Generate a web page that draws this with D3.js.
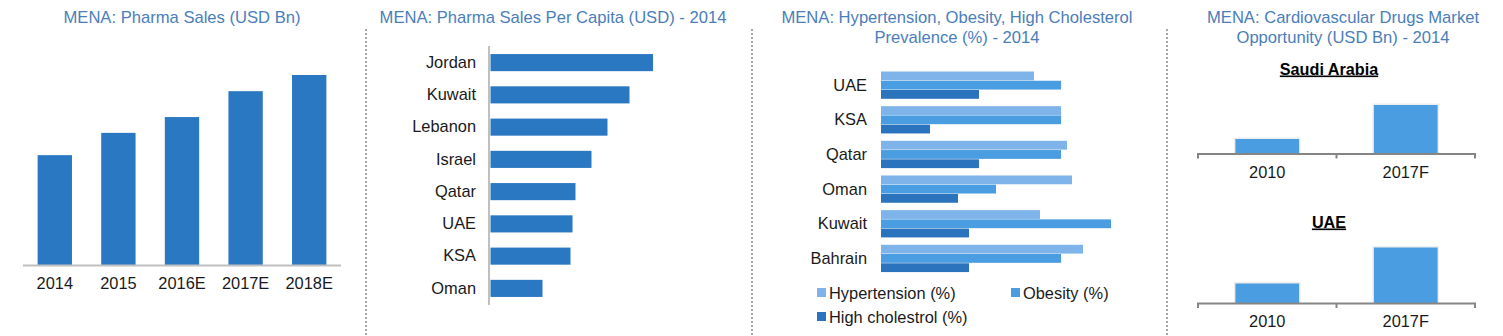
<!DOCTYPE html>
<html><head><meta charset="utf-8">
<script src="https://cdn.jsdelivr.net/npm/d3@7"></script>
<style>body{margin:0;background:#fff;} svg{display:block;font-family:"Liberation Sans",Arial,sans-serif;}</style>
</head><body>
<svg id="c" width="1503" height="336"></svg>
<script>
// Panel 1: MENA pharma sales (USD Bn)
const salesYears = ["2014","2015","2016E","2017E","2018E"];
const salesValues = [30.7, 36.9, 41.3, 48.5, 53.0];
// Panel 2: pharma sales per capita (USD) - 2014
const capCountries = ["Jordan","Kuwait","Lebanon","Israel","Qatar","UAE","KSA","Oman"];
const capValues = [325, 278, 234, 202, 170, 164, 160, 104];
// Panel 3: prevalence (%) - 2014
const prevCountries = ["UAE","KSA","Qatar","Oman","Kuwait","Bahrain"];
const prevSeries = ["Hypertension (%)","Obesity (%)","High cholestrol (%)"];
const hypertension = [30.6, 36, 37.2, 38.2, 31.8, 40.4];
const obesity = [36, 36, 36, 23, 46, 36];
const cholesterol = [19.6, 9.8, 19.6, 15.4, 17.6, 17.6];
// Panel 4: cardiovascular drugs market opportunity (USD Bn)
const cvYears = ["2010","2017F"];
const saudiValues = [0.6, 1.96];
const uaeValues = [0.8, 2.24];

const svg = d3.select("#c");
const titleColor = "#4a7ebb";
const textColor = "#1a1a1a";
const FS = "16.4px";

function title(x, lines, y0){
  const t = svg.append("text").attr("text-anchor","middle").attr("fill",titleColor).style("font-size","16.6px");
  lines.forEach((l,i)=>t.append("tspan").attr("x",x).attr("y",y0+i*20).text(l));
}
function sep(x){
  svg.append("line").attr("x1",x).attr("x2",x).attr("y1",29).attr("y2",336)
    .attr("stroke","#a6a6a6").attr("stroke-width",2).attr("stroke-dasharray","2,2");
}
sep(366); sep(752); sep(1167);

// ---- Panel 1
title(182, ["MENA: Pharma Sales (USD Bn)"], 22.5);
{
  const x = d3.scaleBand().domain(salesYears).range([23,341]).paddingInner(0.46).paddingOuter(0.23);
  const y = d3.scaleLinear().domain([0,53]).range([265.5,75]);
  svg.append("g").selectAll("rect").data(salesValues).join("rect")
    .attr("x",(d,i)=>x(salesYears[i])).attr("width",x.bandwidth())
    .attr("y",d=>y(d)).attr("height",d=>y(0)-y(d)).attr("fill","#2a78c2");
  const ax = svg.append("g").attr("transform","translate(0,265.5)").call(d3.axisBottom(x).tickSize(0).tickPadding(12));
  ax.select(".domain").attr("stroke","#bfbfbf").attr("stroke-width",2).attr("d","M23,0H341");
  ax.selectAll("text").attr("fill",textColor).style("font-size",FS).style("font-family","Liberation Sans, Arial");
}

// ---- Panel 2
title(553, ["MENA: Pharma Sales Per Capita (USD) - 2014"], 22.5);
{
  const y = d3.scaleBand().domain(capCountries).range([46,305]).paddingInner(0.47).paddingOuter(0.25);
  const x = d3.scaleLinear().domain([0,325]).range([490.5,653]);
  svg.append("g").selectAll("rect").data(capValues).join("rect")
    .attr("y",(d,i)=>y(capCountries[i])).attr("height",y.bandwidth())
    .attr("x",x(0)).attr("width",d=>x(d)-x(0)).attr("fill","#2a78c2");
  const ax = svg.append("g").attr("transform","translate(489,0)").call(d3.axisLeft(y).tickSize(0).tickPadding(13));
  ax.select(".domain").attr("stroke","#bfbfbf").attr("stroke-width",2).attr("d","M0,46V305");
  ax.selectAll("text").attr("fill",textColor).style("font-size",FS).style("font-family","Liberation Sans, Arial");
}

// ---- Panel 3
title(957, ["MENA: Hypertension, Obesity, High Cholesterol","Prevalence (%) - 2014"], 22.5);
{
  const colors = ["#7fb4ea","#4a9de0","#2b73bd"];
  const data = [hypertension, obesity, cholesterol];
  const y = d3.scaleBand().domain(prevCountries).range([71.5,272.5]).paddingInner(0.2).paddingOuter(0);
  const sub = d3.scaleBand().domain(prevSeries).range([0,27]).paddingInner(0.08);
  const x = d3.scaleLinear().domain([0,10]).range([881,931]);
  const g = svg.append("g");
  prevCountries.forEach((c,i)=>{
    prevSeries.forEach((s,j)=>{
      g.append("rect").attr("x",x(0)).attr("y",y(c)+sub(s)).attr("height",sub.bandwidth()+0.3)
        .attr("width",x(data[j][i])-x(0)).attr("fill",colors[j]);
    });
  });
  const ax = svg.append("g").attr("transform","translate(867,0)").call(d3.axisLeft(y).tickSize(0).tickPadding(0));
  ax.select(".domain").remove();
  ax.selectAll("text").attr("fill",textColor).style("font-size",FS).style("font-family","Liberation Sans, Arial");
  const legPos = [[817,293],[1011,293],[817,317]];
  prevSeries.forEach((s,j)=>{
    svg.append("rect").attr("x",legPos[j][0]).attr("y",legPos[j][1]-5).attr("width",9).attr("height",9).attr("fill",colors[j]);
    svg.append("text").attr("x",legPos[j][0]+12).attr("y",legPos[j][1]).attr("dy","0.35em")
      .attr("fill",textColor).style("font-size",FS).text(s);
  });
}

// ---- Panel 4
title(1343, ["MENA: Cardiovascular Drugs Market","Opportunity (USD Bn) - 2014"], 22.5);
function miniChart(name, vals, titleY, baseY){
  svg.append("text").attr("x",1329).attr("y",titleY).attr("text-anchor","middle")
    .attr("fill","#000").style("font-size","16.2px").style("font-weight","bold")
    .style("text-decoration","underline").text(name);
  const x = d3.scaleBand().domain(cvYears).range([1198,1475]).paddingInner(0.54).paddingOuter(0.27);
  const y = d3.scaleLinear().domain([0,1]).range([baseY, baseY-25]);
  const g = svg.append("g");
  g.selectAll("rect.sh").data(vals).join("rect").attr("class","sh")
    .attr("x",(d,i)=>x(cvYears[i])-1.5).attr("width",x.bandwidth()+3)
    .attr("y",d=>y(d)-1.5).attr("height",d=>y(0)-y(d)+1.5).attr("fill","#eeeeee");
  g.selectAll("rect.b").data(vals).join("rect").attr("class","b")
    .attr("x",(d,i)=>x(cvYears[i])).attr("width",x.bandwidth())
    .attr("y",d=>y(d)).attr("height",d=>y(0)-y(d)).attr("fill","#4a9de0");
  const ax = svg.append("g").attr("transform",`translate(0,${baseY})`).call(d3.axisBottom(x).tickSize(0).tickPadding(12));
  ax.select(".domain").attr("stroke","#858585").attr("stroke-width",2).attr("d","M1198,4.5V0H1475V4.5M1336.5,0V4.5");
  ax.selectAll("text").attr("fill",textColor).style("font-size",FS).style("font-family","Liberation Sans, Arial");
}
miniChart("Saudi Arabia", saudiValues, 74.5, 154);
miniChart("UAE", uaeValues, 227.5, 303.5);
</script>
</body></html>
